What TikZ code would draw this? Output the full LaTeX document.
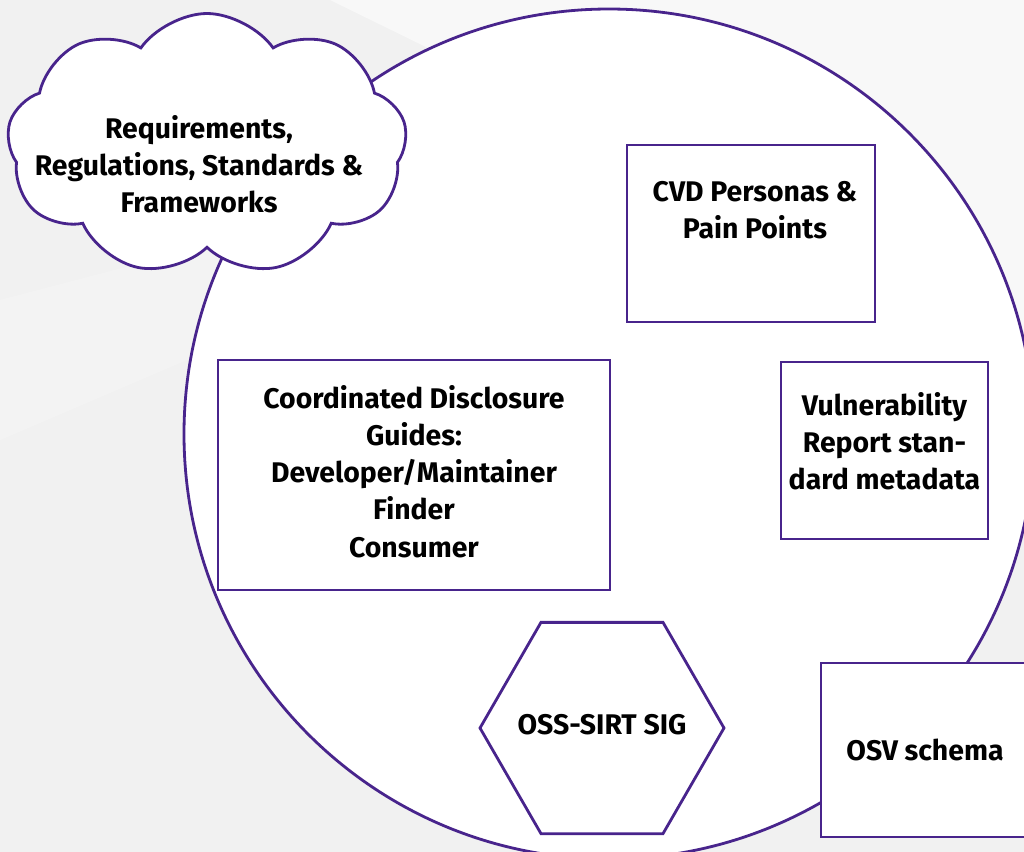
\documentclass[tikz,border=0pt]{standalone}
\usepackage{fontspec}
\setmainfont{Fira Sans}
\usetikzlibrary{shapes.geometric,shapes.symbols}

\definecolor{ossviolet}{RGB}{72,36,140}
\definecolor{bggray}{RGB}{241,241,241}
\definecolor{bglight}{RGB}{248,248,248}

\begin{document}
\begin{tikzpicture}[x=0.5pt,y=-0.5pt,
    outline/.style={draw=ossviolet,line width=1.4pt,fill=white,inner sep=0pt},
    card/.style={outline,rectangle},
    caption/.style={font=\bfseries\fontsize{14.2}{18.6}\selectfont,align=center,inner sep=0pt}]
                % backdrop
                \fill[bggray] (0,0) rectangle (1024,852);
                \fill[bglight] (330,0) -- (1024,0) -- (1024,340) -- cycle;
                \fill[bglight,opacity=.35] (0,300) -- (420,190) -- (420,260) -- (0,440) -- cycle;
                \useasboundingbox (0,0) rectangle (1024,852);

                % the big circle
                \coordinate (O) at (609,434);
                \draw[outline] (O) circle[radius=425];

                % boxes inside the circle
                \node[card,minimum width=124pt,minimum height=88.5pt] (cvd) at (751,233.5) {};
                \node[caption] (cvdtext) at (755,210) {CVD Personas \&\\Pain Points};

                \node[card,minimum width=103.5pt,minimum height=88.5pt] (vuln) at (884.5,450.5) {};
                \node[caption] (vulntext) at (884.5,441) {Vulnerability\\Report stan-\\dard metadata};

                \node[card,minimum width=196pt,minimum height=115pt] (guides) at (414,475) {};
                \node[caption] (guidestext) at (414,471.5) {Coordinated Disclosure\\Guides:\\Developer/Maintainer\\Finder\\Consumer};

                \node[outline,regular polygon,regular polygon sides=6,minimum size=122pt] (sig) at (602,728) {};
                \node[caption] (sigtext) at (602,725) {OSS-SIRT SIG};

                % sitting on the rim
                \node[card,minimum width=104pt,minimum height=87pt] (osv) at (925,750) {};
                \node[caption] (osvtext) at (925,750) {OSV schema};

                \node[outline,cloud,cloud puffs=9,cloud puff arc=110,aspect=1.6,
                      minimum width=200pt,minimum height=131pt] (req) at (207,144.5) {};
                \node[caption] (reqtext) at (199,164) {Requirements,\\Regulations, Standards \&\\Frameworks};
            \end{tikzpicture}
\end{document}
